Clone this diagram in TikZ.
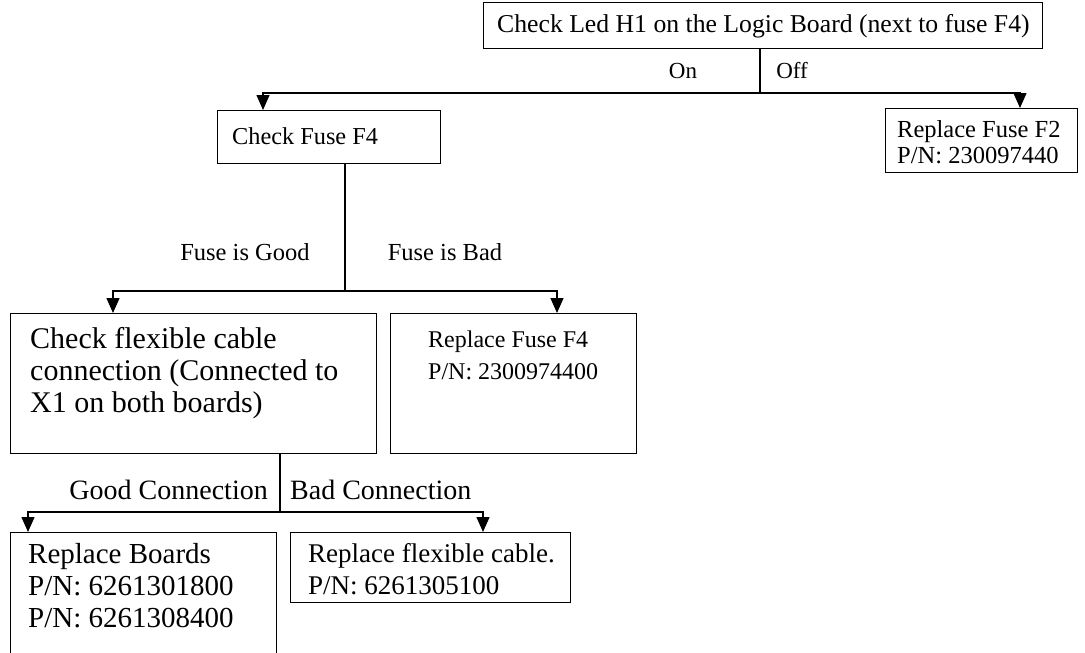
\documentclass[tikz,border=0pt]{standalone}
\usepackage{fontspec}
\setmainfont{Liberation Serif}
\usetikzlibrary{arrows.meta}
\newcommand{\fs}[2]{\fontsize{#1}{#2}\selectfont}
\newcommand{\lines}[1]{\begin{tabular}[t]{@{}l@{}}#1\end{tabular}}
\begin{document}
\begin{tikzpicture}[x=1pt,y=-1pt,
  box/.style={draw, line width=1.1pt, anchor=north west, inner sep=0pt},
  txt/.style={anchor=base west, inner sep=0pt},
  lbl/.style={anchor=base, inner sep=0pt},
  conn/.style={line width=1.3pt},
  arr/.style={line width=1.3pt, -{Triangle[width=13pt,length=15pt]}}
]
\useasboundingbox (0,0) rectangle (1085,653);
% boxes
\node[box, minimum width=559pt, minimum height=46pt] (top) at (483,2) {};
\node[box, minimum width=223pt, minimum height=53pt] (cf4) at (217,110) {};
\node[box, minimum width=192pt, minimum height=64pt] (rf2) at (885,108) {};
\node[box, minimum width=366pt, minimum height=140pt] (flex) at (10,313) {};
\node[box, minimum width=246pt, minimum height=140pt] (rf4) at (390,313) {};
\node[box, minimum width=266pt, minimum height=125pt] (rb) at (10,532) {};
\node[box, minimum width=280pt, minimum height=70pt] (rfc) at (290,532) {};
% texts
\node[txt, font=\fs{25.7}{30}] (ttop) at (497,32) {Check Led H1 on the Logic Board (next to fuse F4)};
\node[txt, font=\fs{24.3}{30}] (tcf4) at (232,144) {Check Fuse F4};
\node[txt, font=\fs{24.5}{26}] (trf2) at (897,137) {\lines{Replace Fuse F2\\P/N: 230097440}};
\node[txt, font=\fs{30}{32}] (tflex) at (30,348) {\lines{Check flexible cable\\connection (Connected to\\X1 on both boards)}};
\node[txt, font=\fs{24}{32}] (trf4) at (428,347) {\lines{Replace Fuse F4\\P/N: 2300974400}};
\node[txt, font=\fs{29}{32}] (trb) at (28,563) {\lines{Replace Boards\\P/N: 6261301800\\P/N: 6261308400}};
\node[txt, font=\fs{27}{32}] (trfc) at (308,562) {\lines{Replace flexible cable.\\P/N: 6261305100}};
% labels
\node[lbl, font=\fs{23}{28}] (lon) at (683,78) {On};
\node[lbl, font=\fs{23}{28}] (loff) at (792,78) {Off};
\node[lbl, font=\fs{24.5}{28}] (lgood) at (245,260) {Fuse is Good};
\node[lbl, font=\fs{24.5}{28}] (lbad) at (445,260) {Fuse is Bad};
\node[lbl, font=\fs{28}{30}, anchor=base east] (lgc) at (268,499) {Good Connection};
\node[lbl, font=\fs{28}{30}, anchor=base west] (lbc) at (290,499) {Bad Connection};
% junctions
\coordinate (j1) at (760,93);
\coordinate (j2) at (345,291);
\coordinate (j3) at (280,512);
% connectors
\draw[conn] (top.south -| j1) -- (j1);
\draw[arr] (j1) -| (cf4.north -| 263,0);
\draw[arr] (j1) -| (rf2.north -| 1020,0);
\draw[conn] (cf4.south -| j2) -- (j2);
\draw[arr] (j2) -| (flex.north -| 113,0);
\draw[arr] (j2) -| (rf4.north -| 557,0);
\draw[conn] (flex.south -| j3) -- (j3);
\draw[arr] (j3) -| (rb.north -| 28,0);
\draw[arr] (j3) -| (rfc.north -| 483,0);
\end{tikzpicture}
\end{document}
